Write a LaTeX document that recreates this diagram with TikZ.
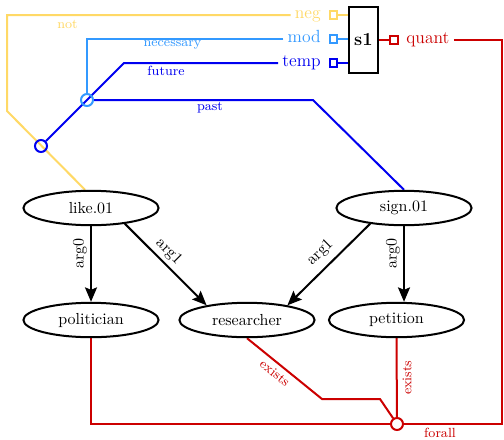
\documentclass[tikz,border=0pt]{standalone}
\usetikzlibrary{shapes.geometric,arrows.meta,backgrounds}
\definecolor{negc}{RGB}{255,217,102}
\definecolor{modc}{RGB}{51,153,255}
\definecolor{tempc}{RGB}{0,0,240}
\definecolor{quantc}{RGB}{204,0,0}
\begin{document}
\begin{tikzpicture}[x=0.625pt,y=-0.625pt,
  concept/.style={ellipse,draw,line width=1.25pt,minimum width=84.5pt,minimum height=21.5pt,inner sep=1pt,font=\fontsize{10}{12}\selectfont},
  rel/.style={line width=1.25pt,-{Stealth[length=9pt,width=7.5pt,inset=1.5pt]}},
  rlab/.style={font=\fontsize{10}{12}\selectfont,inner sep=2pt},
  port/.style={draw,line width=1.25pt,minimum size=4.4pt,inner sep=0pt},
  plab/.style={font=\fontsize{11}{13}\selectfont,inner sep=2.5pt,anchor=east,text height=1.6ex,text depth=0.45ex},
  hub/.style={circle,draw,line width=1.25pt,minimum size=7.5pt,inner sep=0pt},
  small/.style={font=\fontsize{8.3}{10}\selectfont,inner sep=0pt},
  wire/.style={line width=1.25pt}
]
\begin{pgfonlayer}{background}
  \fill[white] (0,0) rectangle (504,439);
\end{pgfonlayer}
\useasboundingbox (0,0) rectangle (504,439);

% concepts
\node[concept] (like) at (91,208) {like.01};
\node[concept] (sign) at (404,208) {sign.01};
\node[concept] (politician) at (91,320) {politician};
\node[concept] (researcher) at (247,320) {researcher};
\node[concept] (petition) at (396.5,320) {petition};

% sentence box with its ports
\node[draw,line width=1.25pt,minimum width=18.1pt,minimum height=41.3pt,inner sep=0pt,
      font=\bfseries\fontsize{11.5}{13}\selectfont] (s1) at (363.5,40) {s1};
\node[port,draw=negc] (negp) at (333.5,15) {};
\node[port,draw=modc] (modp) at (333.5,39) {};
\node[port,draw=tempc] (tempp) at (333.5,63) {};
\node[port,draw=quantc] (quantp) at (394,40) {};
\draw[wire,negc] (negp.east) -- (negp.east -| s1.west);
\draw[wire,modc] (modp.east) -- (modp.east -| s1.west);
\draw[wire,tempc] (tempp.east) -- (tempp.east -| s1.west);
\draw[wire,quantc] (s1.east |- quantp) -- (quantp.west);

\node[plab,text=negc] (negl) at (325,15) {neg};
\node[plab,text=modc] (modl) at (325,39) {mod};
\node[plab,text=tempc] (templ) at (325,63) {temp};
\node[plab,text=quantc,anchor=west] (quantl) at (402,40) {quant};

% scope hubs
\node[hub,draw=tempc] (thub) at (41,146) {};
\node[hub,draw=modc] (mhub) at (87,100) {};
\node[hub,draw=quantc] (fhub) at (397,424) {};

% operator wires
\begin{pgfonlayer}{background}
  \draw[wire,negc] (negl.west) -- (7,15) -- (7,111) -- (like.108);
  \draw[wire,modc] (modl.west) -- (87,39) -- (mhub.north);
  \draw[wire,tempc] (templ.west) -- (124,63) -- (thub);
  \draw[wire,tempc] (mhub.east) -- (313,100) -- (sign.north);
  \draw[wire,quantc] (quantl.east) -- (502,40) -- (502,424) -- (fhub.east);
  \draw[wire,quantc] (fhub.west) -- (91,424) -- (politician.south);
  \draw[wire,quantc] (researcher.south)
     -- node[small,text=quantc,sloped,below=2.5pt,pos=0.45] (ex1) {exists} (322,399)
     -- (380,399) -- (fhub);
  \draw[wire,quantc] (petition.south)
     -- node[small,text=quantc,rotate=90,anchor=north,inner sep=3pt,pos=0.5] (ex2) {exists} (fhub);
\end{pgfonlayer}

\node[small,text=negc] (notl) at (67.5,24) {not};
\node[small,text=modc] (necl) at (172.5,45) {necessary};
\node[small,text=tempc] (futl) at (166,71) {future};
\node[small,text=tempc] (pastl) at (210,108) {past};
\node[small,text=quantc] (foral) at (440,433) {forall};

% roles
\draw[rel] (like.south) -- node[rlab,rotate=90,anchor=south,pos=0.36] {arg0} (politician.north);
\draw[rel] (like.-25) -- node[rlab,sloped,above,pos=0.44] {arg1} (researcher.160);
\draw[rel] (sign.205) -- node[rlab,sloped,above=2pt,pos=0.48] {arg1} (researcher.20);
\draw[rel] (sign.south) -- node[rlab,rotate=90,anchor=south,pos=0.36] {arg0} (sign.south |- petition.north);
\end{tikzpicture}
\end{document}
